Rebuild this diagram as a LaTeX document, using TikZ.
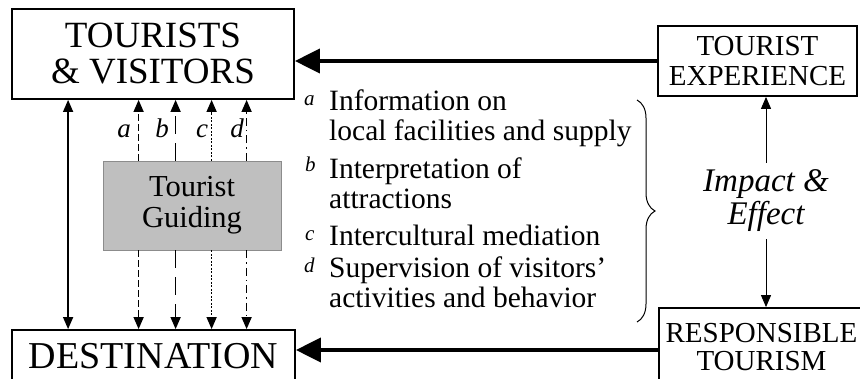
\documentclass[tikz,border=0pt]{standalone}
\usepackage{fontspec}
\setmainfont{Liberation Serif}
\usetikzlibrary{arrows.meta,calc,decorations.pathreplacing}
\begin{document}
\begin{tikzpicture}[x=1pt,y=-1pt,
  box/.style={draw, line width=1.8pt, inner sep=0pt, align=center},
  graybox/.style={draw=black!45, line width=0.8pt, fill=black!25, inner sep=0pt, align=center},
  bigarrow/.style={line width=4pt, -{Triangle[length=25pt,width=24pt]}},
  varrow/.style={line width=1.4pt, -{Triangle[length=12pt,width=10pt]}},
  dblarrow/.style={line width=1.4pt, {Triangle[length=12pt,width=10pt]}-{Triangle[length=12pt,width=10pt]}},
  thinarrow/.style={line width=1pt, -{Triangle[length=12pt,width=10pt]}},
  dashA/.style={dash pattern=on 7pt off 3pt},
  dashB/.style={dash pattern=on 18pt off 9pt},
  dashC/.style={dash pattern=on 2pt off 1.5pt},
  dashD/.style={dash pattern=on 8pt off 4pt on 1.5pt off 4pt},
  lab/.style={anchor=base, inner sep=0pt, font=\itshape\fontsize{27}{27}\selectfont},
  lst/.style={anchor=base west, inner sep=0pt, font=\fontsize{29.5}{30}\selectfont},
  letr/.style={anchor=base west, inner sep=0pt, font=\itshape\fontsize{21}{21}\selectfont}]
\useasboundingbox (0,0) rectangle (860,378);
\clip (0,0) rectangle (860,378);

% boxes
\node[box, minimum width=282pt, minimum height=90pt, font=\fontsize{37}{36}\selectfont] (tv) at (153,54) {TOURISTS\\\& VISITORS};
\node[box, minimum width=283pt, minimum height=53pt, font=\fontsize{38}{38}\selectfont] (dest) at (153.5,356.5) {DESTINATION};
\node[box, minimum width=199pt, minimum height=70pt, font=\fontsize{29}{30}\selectfont] (te) at (757.5,61) {TOURIST\\EXPERIENCE};
\node[box, minimum width=205pt, minimum height=84pt] (rt) at (761.5,350) {};
\node[anchor=base, inner sep=0pt, font=\fontsize{29}{29}\selectfont] (rt1) at (761.5,342) {RESPONSIBLE};
\node[anchor=base, inner sep=0pt, font=\fontsize{29}{29}\selectfont] (rt2) at (761.5,370.5) {TOURISM};
\node[graybox, minimum width=178pt, minimum height=89pt, font=\fontsize{30.5}{31}\selectfont] (gray) at (192,205.5) {Tourist\\Guiding};

% big arrows
\draw[bigarrow] (te.west) -- (te.west -| tv.east);
\draw[bigarrow] (rt.west) -- (rt.west -| dest.east);

% impact
\node[font=\itshape\fontsize{33}{33}\selectfont, align=center, inner sep=7pt] (imp) at (766,201) {Impact \&\\Effect};
\draw[thinarrow] (imp.north) -- (imp.north |- te.south);
\draw[thinarrow] (imp.south) -- (imp.south |- rt.north);

% left double arrow
\coordinate (l0) at ($(tv.south west)+(57,0)$);
\draw[dblarrow] (l0) -- (l0 |- dest.north);

% guiding arrows
\coordinate (ua) at ($(gray.north west)+(36,0)$);
\coordinate (ub) at ($(gray.north west)+(73,0)$);
\coordinate (uc) at ($(gray.north west)+(109,0)$);
\coordinate (ud) at ($(gray.north west)+(144,0)$);
\coordinate (da) at ($(gray.south west)+(36,0)$);
\coordinate (db) at ($(gray.south west)+(73,0)$);
\coordinate (dc) at ($(gray.south west)+(109,0)$);
\coordinate (dd) at ($(gray.south west)+(144,0)$);
\draw[varrow, dashA] (ua) -- (ua |- tv.south);
\draw[varrow, dashB] (ub) -- (ub |- tv.south);
\draw[varrow, dashC] (uc) -- (uc |- tv.south);
\draw[varrow, dashD] (ud) -- (ud |- tv.south);
\draw[varrow, dashA] (da) -- (da |- dest.north);
\draw[varrow, dashB] (db) -- (db |- dest.north);
\draw[varrow, dashC] (dc) -- (dc |- dest.north);
\draw[varrow, dashD] (dd) -- (dd |- dest.north);

\node[lab] (la) at (124,137) {a};
\node[lab] (lb) at (162,137) {b};
\node[lab] (lc) at (202,137) {c};
\node[lab] (ld) at (237,137) {d};

% list
\node[letr] (ia) at (304,105) {a};
\node[lst] (ta1) at (329,110) {Information on};
\node[lst] (ta2) at (329,140) {local facilities and supply};
\node[letr] (ib) at (305,171) {b};
\node[lst] (tb1) at (329,178) {Interpretation of};
\node[lst] (tb2) at (329,208) {attractions};
\node[letr] (ic) at (305,240) {c};
\node[lst] (tc1) at (329,245) {Intercultural mediation};
\node[letr] (id) at (304,272) {d};
\node[lst] (td1) at (329,277) {Supervision of visitors’};
\node[lst] (td2) at (329,307) {activities and behavior};

% brace
\coordinate (bt) at (637,100);
\coordinate (bb) at (637,322);
\draw[line width=1pt, decorate, decoration={brace, amplitude=18pt}] (bt) -- (bb);
\end{tikzpicture}
\end{document}
